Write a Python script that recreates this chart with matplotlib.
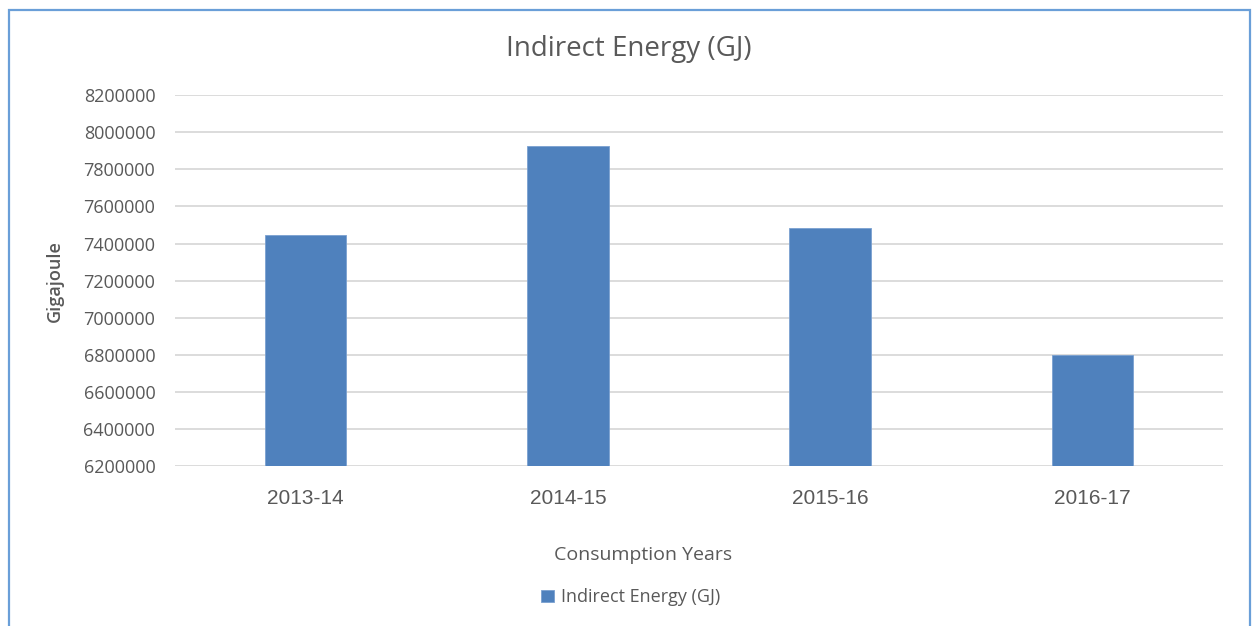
import matplotlib
matplotlib.use("Agg")
import matplotlib.pyplot as plt
from matplotlib.patches import Rectangle

# Data
years = ["2013-14", "2014-15", "2015-16", "2016-17"]
energy_gj = [7445000, 7925000, 7485000, 6800000]
y_ticks = list(range(6200000, 8200001, 200000))

bar_color = "#4f81bd"
grid_color = "#d9d9d9"
text_color = "#595959"

fig = plt.figure(figsize=(12.57, 6.26), dpi=100)
ax = fig.add_axes([0.139, 0.2548, 0.8342, 0.5934])

x = range(len(years))
ax.bar(x, energy_gj, width=0.31, color=bar_color, edgecolor="#7aa0d0",
       linewidth=0.6, label="Indirect Energy (GJ)", zorder=3)

ax.set_xlim(-0.5, len(years) - 0.5)
ax.set_ylim(y_ticks[0], y_ticks[-1])
ax.set_yticks(y_ticks)
ax.set_yticklabels([str(v) for v in y_ticks], fontfamily="Open Sans",
                   fontsize=13, color=text_color)
ax.set_xticks(list(x))
ax.set_xticklabels(years, fontfamily="Liberation Sans", fontsize=15, color=text_color)
ax.tick_params(axis="both", length=0)
ax.tick_params(axis="y", pad=14)
ax.tick_params(axis="x", pad=16)

ax.grid(axis="y", color=grid_color, linewidth=1.3, zorder=0)
for s in ax.spines.values():
    s.set_visible(False)

ax.set_ylabel("Gigajoule", fontfamily="Open Sans", fontsize=13, color=text_color,
              fontweight="semibold")
ax.yaxis.set_label_coords(-0.106, 0.5)
ax.set_xlabel("Consumption Years", fontfamily="Open Sans", fontsize=14, color=text_color)
ax.xaxis.set_label_coords(0.447, -0.215)

fig.text(0.5, 0.921, "Indirect Energy (GJ)", ha="center", va="center",
         fontfamily="Open Sans", fontsize=20, color=text_color)

leg = fig.legend(loc="center", bbox_to_anchor=(0.502, 0.046), frameon=False,
                 prop={"family": "Open Sans", "size": 13},
                 handlelength=0.7, handleheight=0.7, handletextpad=0.4)
for t in leg.get_texts():
    t.set_color(text_color)

# chart border
fig.patches.append(Rectangle((9 / 1257, -0.05), 1241 / 1257, 1.05 - 10 / 626,
                             transform=fig.transFigure, fill=False,
                             edgecolor="#6a9fd8", linewidth=1.6))

fig.savefig("out.png", dpi=100, facecolor="white")
